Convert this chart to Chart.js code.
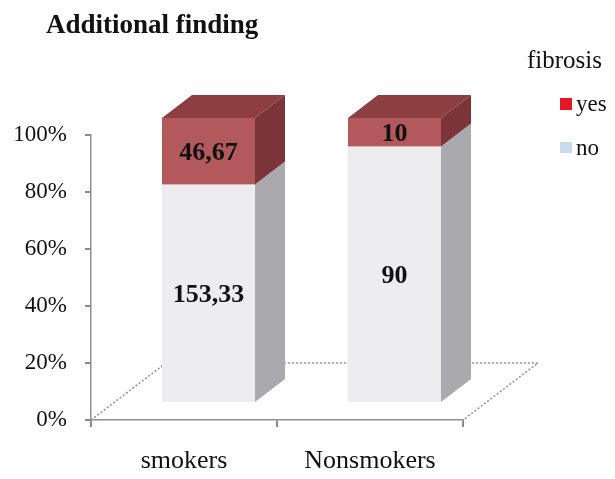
<!DOCTYPE html>
<html>
<head>
<meta charset="utf-8">
<script src="https://cdn.jsdelivr.net/npm/chart.js@4.4.1/dist/chart.umd.min.js"></script>
<style>
  html, body { margin: 0; padding: 0; background: #fff; }
  #wrap { width: 615px; height: 479px; }
</style>
</head>
<body>
<div id="wrap"><canvas id="fibrosisChart"></canvas></div>
<script>
// values
const categories = ['smokers', 'Nonsmokers'];
const noValues = [153.33, 90];
const yesValues = [46.67, 10];
const seriesNames = ['no', 'yes'];
const yTicks = [0, 20, 40, 60, 80, 100];

// face colours: front, top, side
const noColors = ['#ededf0', '#dcdce0', '#a9a9ae'];
const yesColors = ['#b3585b', '#8c3e41', '#7b3438'];
const legendColors = { yes: '#e5172a', no: '#c8dbec' };

const SERIF = "'Liberation Serif', 'Times New Roman', serif";

const totals = categories.map((c, i) => noValues[i] + yesValues[i]);
const toPct = arr => arr.map((v, i) => v / totals[i] * 100);
const fmt = v => String(v).replace('.', ',');

// 3D look
const FLOOR_DX = 75, FLOOR_DY = -57;
const FRONT_AT = 0.3, BACK_AT = 0.7;

const bars3d = {
    id: 'bars3d',
    beforeDatasetsDraw(chart) {
        const ctx = chart.ctx;
        const xs = chart.scales.x, ys = chart.scales.y;
        const y0 = ys.getPixelForValue(0);

        // floor outline
        ctx.save();
        ctx.strokeStyle = '#8f8f8f';
        ctx.lineWidth = 1.5;
        ctx.setLineDash([2, 2]);
        ctx.beginPath();
        ctx.moveTo(xs.left, y0);
        ctx.lineTo(xs.left + FLOOR_DX, y0 + FLOOR_DY);
        ctx.lineTo(xs.right + FLOOR_DX, y0 + FLOOR_DY);
        ctx.lineTo(xs.right, y0);
        ctx.stroke();
        ctx.restore();

        const fx = FLOOR_DX * FRONT_AT + 2, fy = FLOOR_DY * FRONT_AT;
        const bdx = FLOOR_DX * (BACK_AT - FRONT_AT), bdy = FLOOR_DY * (BACK_AT - FRONT_AT);
        const faceSets = [noColors, yesColors];
        const valueSets = [noValues, yesValues];
        const last = chart.data.datasets.length - 1;

        categories.forEach((cat, ci) => {
            chart.data.datasets.forEach((ds, di) => {
                const el = chart.getDatasetMeta(di).data[ci];
                const w = el.width;
                const l = el.x - w / 2 + fx, r = l + w;
                const t = el.y + fy, b = el.base + fy;
                const cols = faceSets[di];

                ctx.fillStyle = cols[0];
                ctx.fillRect(l, t, w, b - t);

                ctx.fillStyle = cols[2];
                ctx.beginPath();
                ctx.moveTo(r, t);
                ctx.lineTo(r + bdx, t + bdy);
                ctx.lineTo(r + bdx, b + bdy);
                ctx.lineTo(r, b);
                ctx.closePath();
                ctx.fill();

                if (di === last) {
                    ctx.fillStyle = cols[1];
                    ctx.beginPath();
                    ctx.moveTo(l, t);
                    ctx.lineTo(l + bdx, t + bdy);
                    ctx.lineTo(r + bdx, t + bdy);
                    ctx.lineTo(r, t);
                    ctx.closePath();
                    ctx.fill();
                }

                ctx.fillStyle = '#111';
                ctx.font = 'bold 26px ' + SERIF;
                ctx.textAlign = 'center';
                ctx.textBaseline = 'middle';
                ctx.fillText(fmt(valueSets[di][ci]), el.x + fx, (t + b) / 2 + 2);
            });
        });
        return false;
    },
    afterDraw(chart) {
        const ctx = chart.ctx;
        ctx.save();
        ctx.fillStyle = '#111';
        ctx.textAlign = 'left';
        ctx.textBaseline = 'alphabetic';
        ctx.font = 'bold 27px ' + SERIF;
        ctx.fillText('Additional finding', 46, 33);

        ctx.font = '25px ' + SERIF;
        ctx.fillText('fibrosis', 527, 68);
        ctx.font = '23px ' + SERIF;
        ctx.fillStyle = legendColors.yes;
        ctx.fillRect(560, 98, 12, 12);
        ctx.fillStyle = '#111';
        ctx.fillText('yes', 576, 111);
        ctx.fillStyle = legendColors.no;
        ctx.fillRect(560, 142, 12, 11);
        ctx.fillStyle = '#111';
        ctx.fillText('no', 576, 155);
        ctx.restore();
    }
};

new Chart(document.getElementById('fibrosisChart'), {
    type: 'bar',
    data: {
        labels: categories,
        datasets: [
            { label: seriesNames[0], data: toPct(noValues), backgroundColor: noColors[0] },
            { label: seriesNames[1], data: toPct(yesValues), backgroundColor: yesColors[0] }
        ]
    },
    options: {
        responsive: true,
        maintainAspectRatio: false,
        animation: false,
        layout: { padding: { top: 135, right: 152, left: 0, bottom: 0 } },
        plugins: {
            legend: { display: false },
            tooltip: { enabled: false }
        },
        datasets: { bar: { categoryPercentage: 1, barPercentage: 0.5 } },
        scales: {
            x: {
                stacked: true,
                grid: { offset: true, drawOnChartArea: false, drawTicks: true, tickLength: 7, color: '#8a8a8a', lineWidth: 2 },
                border: { display: true, color: '#8f8f8f', width: 1.5, dash: [2, 2] },
                ticks: { color: '#111', font: { family: SERIF, size: 26 }, padding: 19 },
                afterFit: s => { s.height = 59; }
            },
            y: {
                stacked: true,
                min: 0,
                max: 100,
                afterBuildTicks: s => { s.ticks = yTicks.map(v => ({ value: v })); },
                grid: { drawOnChartArea: false, drawTicks: true, tickLength: 6, color: '#8a8a8a', lineWidth: 2 },
                border: { display: true, color: '#8f8f8f', width: 1.5, dash: [2, 2] },
                ticks: {
                    color: '#111',
                    font: { family: SERIF, size: 23 },
                    padding: 18,
                    callback: v => v + '%'
                },
                afterFit: s => { s.width = 91; }
            }
        }
    },
    plugins: [bars3d]
});
</script>
</body>
</html>
